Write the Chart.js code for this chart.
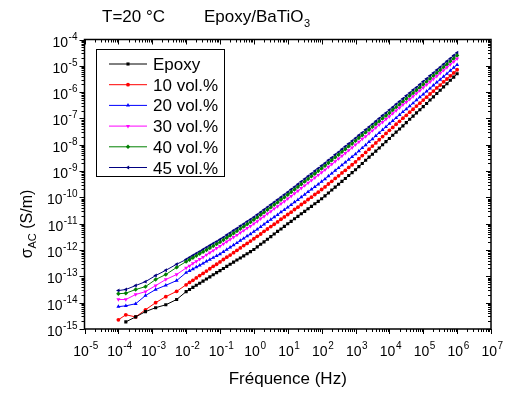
<!DOCTYPE html>
<html>
<head>
<meta charset="utf-8">
<script src="https://cdn.jsdelivr.net/npm/chart.js@4.4.0/dist/chart.umd.min.js"></script>
<style>
  html, body { margin: 0; padding: 0; background: #fff; }
</style>
</head>
<body>
<canvas id="sigmaChart" width="508" height="394"></canvas>
<script>
// log10 of frequency (Hz)
const freqExp = [
  -4, -3.78, -3.49, -3.2, -2.9, -2.6, -2.28, -2.0,
  -1.9, -1.8, -1.7, -1.6, -1.5, -1.4, -1.3, -1.2, -1.1, -1.0,
  -0.9, -0.8, -0.7, -0.6, -0.5, -0.4, -0.3, -0.2, -0.1, 0,
  0.1, 0.2, 0.3, 0.4, 0.5, 0.6, 0.7, 0.8, 0.9, 1.0,
  1.1, 1.2, 1.3, 1.4, 1.5, 1.6, 1.7, 1.8, 1.9, 2.0,
  2.1, 2.2, 2.3, 2.4, 2.5, 2.6, 2.7, 2.8, 2.9, 3.0,
  3.1, 3.2, 3.3, 3.4, 3.5, 3.6, 3.7, 3.8, 3.9, 4.0,
  4.1, 4.2, 4.3, 4.4, 4.5, 4.6, 4.7, 4.8, 4.9, 5.0,
  5.1, 5.2, 5.3, 5.4, 5.5, 5.6, 5.7, 5.8, 5.9, 6.0
];

// log10 of sigma_AC (S/m) for each sample
const epoxy = [
  null, -14.73, -14.54, -14.34, -14.19, -14.08, -13.88, -13.58,
  -13.50, -13.42, -13.34, -13.26, -13.18, -13.10, -13.02, -12.94, -12.86, -12.78,
  -12.70, -12.62, -12.54, -12.46, -12.38, -12.30, -12.22, -12.14, -12.06, -11.98,
  -11.88, -11.78, -11.69, -11.59, -11.49, -11.39, -11.29, -11.20, -11.10, -11.00,
  -10.91, -10.81, -10.72, -10.62, -10.53, -10.43, -10.34, -10.24, -10.15, -10.05,
  -9.94, -9.83, -9.72, -9.61, -9.50, -9.39, -9.28, -9.17, -9.06, -8.95,
  -8.83, -8.71, -8.59, -8.47, -8.36, -8.24, -8.12, -8.00, -7.88, -7.76,
  -7.64, -7.52, -7.40, -7.28, -7.16, -7.03, -6.91, -6.79, -6.67, -6.55,
  -6.43, -6.30, -6.18, -6.05, -5.93, -5.80, -5.68, -5.55, -5.43, -5.30
];
const vol10 = [
  -14.65, -14.46, -14.54, -14.27, -14.00, -13.77, -13.57, -13.32,
  -13.23, -13.15, -13.06, -12.97, -12.89, -12.80, -12.71, -12.62, -12.54, -12.45,
  -12.36, -12.27, -12.19, -12.10, -12.01, -11.92, -11.83, -11.75, -11.66, -11.57,
  -11.48, -11.39, -11.29, -11.20, -11.11, -11.02, -10.93, -10.83, -10.74, -10.65,
  -10.56, -10.46, -10.37, -10.27, -10.18, -10.08, -9.99, -9.89, -9.80, -9.70,
  -9.60, -9.49, -9.39, -9.28, -9.18, -9.07, -8.97, -8.86, -8.76, -8.65,
  -8.53, -8.41, -8.29, -8.17, -8.05, -7.93, -7.81, -7.69, -7.57, -7.45,
  -7.34, -7.22, -7.11, -6.99, -6.88, -6.76, -6.65, -6.53, -6.42, -6.30,
  -6.19, -6.07, -5.96, -5.84, -5.73, -5.61, -5.50, -5.38, -5.27, -5.15
];
const vol20 = [
  -14.15, -14.12, -14.04, -13.73, -13.50, -13.34, -13.16, -12.86,
  -12.79, -12.72, -12.65, -12.58, -12.51, -12.43, -12.36, -12.29, -12.22, -12.15,
  -12.07, -11.98, -11.90, -11.81, -11.73, -11.64, -11.56, -11.47, -11.39, -11.30,
  -11.21, -11.12, -11.02, -10.93, -10.84, -10.75, -10.66, -10.56, -10.47, -10.38,
  -10.28, -10.18, -10.09, -9.99, -9.89, -9.79, -9.69, -9.60, -9.50, -9.40,
  -9.30, -9.19, -9.09, -8.98, -8.88, -8.77, -8.67, -8.56, -8.46, -8.35,
  -8.24, -8.12, -8.01, -7.89, -7.78, -7.66, -7.55, -7.43, -7.32, -7.20,
  -7.09, -6.98, -6.86, -6.75, -6.64, -6.53, -6.42, -6.30, -6.19, -6.08,
  -5.97, -5.86, -5.74, -5.63, -5.52, -5.41, -5.30, -5.18, -5.07, -4.96
];
const vol30 = [
  -13.88, -13.88, -13.69, -13.58, -13.35, -13.12, -12.93, -12.68,
  -12.60, -12.51, -12.43, -12.35, -12.27, -12.18, -12.10, -12.02, -11.93, -11.85,
  -11.77, -11.68, -11.60, -11.51, -11.43, -11.34, -11.26, -11.17, -11.09, -11.00,
  -10.91, -10.81, -10.72, -10.62, -10.53, -10.43, -10.34, -10.24, -10.15, -10.05,
  -9.95, -9.85, -9.75, -9.65, -9.55, -9.45, -9.35, -9.25, -9.15, -9.05,
  -8.95, -8.84, -8.74, -8.63, -8.53, -8.42, -8.32, -8.21, -8.11, -8.00,
  -7.89, -7.78, -7.68, -7.57, -7.46, -7.35, -7.24, -7.14, -7.03, -6.92,
  -6.81, -6.70, -6.59, -6.48, -6.38, -6.27, -6.16, -6.05, -5.94, -5.83,
  -5.72, -5.61, -5.50, -5.39, -5.28, -5.17, -5.06, -4.95, -4.84, -4.73
];
const vol40 = [
  -13.66, -13.64, -13.50, -13.39, -13.12, -12.93, -12.66, -12.44,
  -12.37, -12.29, -12.22, -12.14, -12.07, -12.00, -11.92, -11.85, -11.77, -11.70,
  -11.62, -11.53, -11.45, -11.36, -11.28, -11.19, -11.11, -11.02, -10.94, -10.85,
  -10.76, -10.66, -10.57, -10.47, -10.38, -10.28, -10.19, -10.09, -10.00, -9.90,
  -9.80, -9.70, -9.60, -9.50, -9.40, -9.30, -9.20, -9.10, -9.00, -8.90,
  -8.80, -8.69, -8.59, -8.48, -8.38, -8.27, -8.17, -8.06, -7.96, -7.85,
  -7.74, -7.64, -7.53, -7.43, -7.32, -7.21, -7.11, -7.00, -6.90, -6.79,
  -6.68, -6.57, -6.47, -6.36, -6.25, -6.14, -6.03, -5.93, -5.82, -5.71,
  -5.60, -5.49, -5.38, -5.27, -5.16, -5.05, -4.94, -4.83, -4.72, -4.61
];
const vol45 = [
  -13.54, -13.50, -13.35, -13.20, -12.97, -12.77, -12.54, -12.36,
  -12.28, -12.21, -12.13, -12.06, -11.98, -11.90, -11.83, -11.75, -11.68, -11.60,
  -11.52, -11.43, -11.35, -11.26, -11.18, -11.09, -11.01, -10.92, -10.84, -10.75,
  -10.66, -10.56, -10.47, -10.37, -10.28, -10.18, -10.09, -9.99, -9.90, -9.80,
  -9.70, -9.60, -9.50, -9.40, -9.30, -9.20, -9.10, -9.00, -8.90, -8.80,
  -8.70, -8.59, -8.49, -8.38, -8.28, -8.17, -8.07, -7.96, -7.86, -7.75,
  -7.64, -7.54, -7.43, -7.32, -7.22, -7.11, -7.00, -6.89, -6.79, -6.68,
  -6.57, -6.46, -6.36, -6.25, -6.14, -6.03, -5.92, -5.82, -5.71, -5.60,
  -5.49, -5.38, -5.27, -5.16, -5.05, -4.94, -4.83, -4.72, -4.61, -4.50
];

const seriesNames = ['Epoxy', '10 vol.%', '20 vol.%', '30 vol.%', '40 vol.%', '45 vol.%'];
const xTickExps = [-5, -4, -3, -2, -1, 0, 1, 2, 3, 4, 5, 6, 7];
const yTickExps = [-15, -14, -13, -12, -11, -10, -9, -8, -7, -6, -5, -4];

const FONT = '"Liberation Sans", Arial, sans-serif';

const styles = [
  { color: '#000000', shape: 'rect', rot: 0, r: 2.2 },
  { color: '#ff0000', shape: 'circle', rot: 0, r: 1.9 },
  { color: '#0000ff', shape: 'triangle', rot: 0, r: 2.3 },
  { color: '#ff00ff', shape: 'triangle', rot: 180, r: 2.3 },
  { color: '#008000', shape: 'rectRot', rot: 0, r: 2.2 },
  { color: '#000080', shape: 'triangle', rot: 270, r: 2.3 }
];

function toPoints(vals) {
  const pts = [];
  vals.forEach((v, i) => {
    if (v !== null) pts.push({ x: Math.pow(10, freqExp[i]), y: Math.pow(10, v) });
  });
  return pts;
}

const allSeries = [epoxy, vol10, vol20, vol30, vol40, vol45];

const datasets = allSeries.map((vals, i) => ({
  label: seriesNames[i],
  data: toPoints(vals),
  borderColor: styles[i].color,
  backgroundColor: styles[i].color,
  pointBackgroundColor: styles[i].color,
  pointBorderColor: styles[i].color,
  pointStyle: styles[i].shape,
  pointRotation: styles[i].rot,
  pointRadius: styles[i].r,
  pointBorderWidth: 0,
  borderWidth: 1,
  tension: 0
}));

// superscript style "10^n"
function drawPow(ctx, exp, x, y, align) {
  ctx.font = '14px ' + FONT;
  const wBase = ctx.measureText('10').width;
  ctx.font = '10px ' + FONT;
  const sup = String(exp);
  const wSup = ctx.measureText(sup).width;
  let x0;
  if (align === 'center') x0 = x - (wBase + wSup) / 2;
  else x0 = x - (wBase + wSup);
  ctx.textAlign = 'left';
  ctx.textBaseline = 'alphabetic';
  ctx.font = '14px ' + FONT;
  ctx.fillText('10', x0, y);
  ctx.font = '10px ' + FONT;
  ctx.fillText(sup, x0 + wBase + 0.5, y - 7);
}

const framePlugin = {
  id: 'frame',
  afterDraw(chart) {
    const ctx = chart.ctx;
    const a = chart.chartArea;
    const xs = chart.scales.x, ys = chart.scales.y;
    ctx.save();
    ctx.fillStyle = '#000';
    ctx.strokeStyle = '#000';

    // frame
    ctx.lineWidth = 1.5;
    ctx.strokeRect(a.left, a.top, a.right - a.left, a.bottom - a.top);

    // ticks
    ctx.lineWidth = 1;
    ctx.beginPath();
    for (let e = -5; e < 7; e++) {
      for (let m = 1; m <= 9; m++) {
        const px = Math.round(xs.getPixelForValue(m * Math.pow(10, e))) + 0.5;
        const len = m === 1 ? 5 : 3;
        ctx.moveTo(px, a.bottom); ctx.lineTo(px, a.bottom + len);
        ctx.moveTo(px, a.top); ctx.lineTo(px, a.top + len);
      }
    }
    const pxEnd = Math.round(xs.getPixelForValue(1e7)) + 0.5;
    ctx.moveTo(pxEnd, a.bottom); ctx.lineTo(pxEnd, a.bottom + 5);
    for (let e = -15; e < -4; e++) {
      for (let m = 1; m <= 9; m++) {
        const py = Math.round(ys.getPixelForValue(m * Math.pow(10, e))) + 0.5;
        const len = m === 1 ? 5 : 3;
        ctx.moveTo(a.left, py); ctx.lineTo(a.left - len, py);
        ctx.moveTo(a.right, py); ctx.lineTo(a.right - len, py);
      }
    }
    const pyEnd = Math.round(ys.getPixelForValue(1e-4)) + 0.5;
    ctx.moveTo(a.left, pyEnd); ctx.lineTo(a.left - 5, pyEnd);
    ctx.stroke();

    // tick labels
    xTickExps.forEach(e => {
      drawPow(ctx, e, xs.getPixelForValue(Math.pow(10, e)) + 1, 356, 'center');
    });
    yTickExps.forEach(e => {
      drawPow(ctx, e, 77, ys.getPixelForValue(Math.pow(10, e)) + 7, 'right');
    });

    // axis titles
    ctx.font = '17px ' + FONT;
    ctx.textAlign = 'center';
    ctx.fillText('Fréquence (Hz)', (a.left + a.right) / 2, 384);

    ctx.save();
    ctx.translate(32, 224);
    ctx.rotate(-Math.PI / 2);
    ctx.font = '16px ' + FONT;
    const wSig = ctx.measureText('σ').width;
    const wRest = ctx.measureText(' (S/m)').width;
    ctx.font = '11px ' + FONT;
    const wAC = ctx.measureText('AC').width;
    let tx = -(wSig + wAC + wRest) / 2;
    ctx.textAlign = 'left';
    ctx.font = '16px ' + FONT;
    ctx.fillText('σ', tx, 0);
    tx += wSig;
    ctx.font = '11px ' + FONT;
    ctx.fillText('AC', tx, 4);
    tx += wAC;
    ctx.font = '16px ' + FONT;
    ctx.fillText(' (S/m)', tx, 0);
    ctx.restore();

    // titles
    ctx.textAlign = 'left';
    ctx.font = '17px ' + FONT;
    ctx.fillText('T=20 °C', 102, 22);
    ctx.fillText('Epoxy/BaTiO', 204, 22);
    const wT = ctx.measureText('Epoxy/BaTiO').width;
    ctx.font = '11px ' + FONT;
    ctx.fillText('3', 204 + wT + 0.5, 27);

    // legend
    ctx.lineWidth = 1;
    ctx.strokeRect(96.5, 49.5, 128, 127);
    seriesNames.forEach((name, i) => {
      const y = 64 + i * 20.7;
      const st = styles[i];
      ctx.strokeStyle = st.color;
      ctx.fillStyle = st.color;
      ctx.lineWidth = 1;
      ctx.beginPath();
      ctx.moveTo(109, y); ctx.lineTo(147, y);
      ctx.stroke();
      Chart.helpers.drawPoint(ctx, { pointStyle: st.shape, rotation: st.rot, radius: st.r, borderWidth: 0 }, 128, y);
      ctx.fillStyle = '#000';
      ctx.font = '17px ' + FONT;
      ctx.textAlign = 'left';
      ctx.textBaseline = 'alphabetic';
      ctx.fillText(name, 153, y + 6);
    });
    ctx.restore();
  }
};

new Chart(document.getElementById('sigmaChart').getContext('2d'), {
  type: 'line',
  data: { datasets: datasets },
  options: {
    responsive: false,
    animation: false,
    devicePixelRatio: 1,
    layout: { padding: { left: 84.5, right: 17, top: 39.5, bottom: 65 } },
    plugins: { legend: { display: false }, tooltip: { enabled: false } },
    scales: {
      x: { type: 'logarithmic', min: 1e-5, max: 1e7, display: false },
      y: { type: 'logarithmic', min: 1e-15, max: 1e-4, display: false }
    }
  },
  plugins: [framePlugin]
});
</script>
</body>
</html>
